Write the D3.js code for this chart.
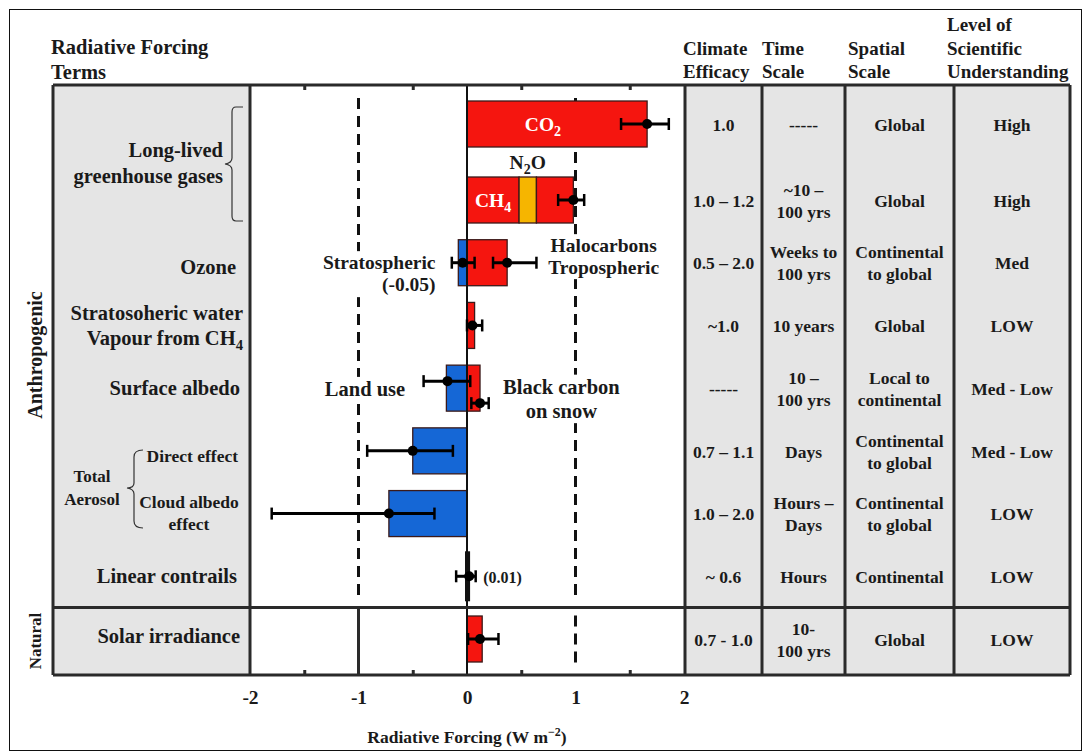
<!DOCTYPE html>
<html lang="en">
<head>
<meta charset="UTF-8">
<title>Radiative forcing terms</title>
<script src="https://d3js.org/d3.v7.min.js"></script>
<style>
  body { margin: 0; background: #fff; }
  svg text { font-family: "Liberation Serif", "Times New Roman", serif; font-weight: bold; fill: #1a1a1a; }
</style>
</head>
<body>
<svg width="1086" height="754"></svg>
<script>
// ---- data ----
const rows = ["CO2", "CH4/N2O/Halocarbons", "Ozone", "Strat. water vapour", "Surface albedo",
              "Aerosol direct", "Aerosol cloud albedo", "Linear contrails", "Solar irradiance"];

// bar segments (stacked within a row)
const segName  = ["CO2", "CH4", "N2O", "Halocarbons", "Strat. ozone", "Trop. ozone", "Strat. H2O",
                  "Land use", "Black carbon", "Direct", "Cloud albedo", "Contrails", "Solar"];
const segRow   = [0, 1, 1, 1, 2, 2, 3, 4, 4, 5, 6, 7, 8];
const segValue = [1.66, 0.48, 0.16, 0.34, -0.08, 0.37, 0.07, -0.19, 0.12, -0.50, -0.72, 0.01, 0.14];
const segKind  = ["warm", "warm", "n2o", "warm", "cool", "warm", "warm", "cool", "warm", "cool", "cool", "line", "warm"];

// uncertainty ranges
const errRow  = [0, 1, 2, 2, 3, 4, 4, 5, 6, 7, 8];
const errBest = [1.66, 0.98, -0.04, 0.37, 0.05, -0.18, 0.12, -0.50, -0.72, 0.02, 0.12];
const errLow  = [1.42, 0.84, -0.14, 0.24, 0.00, -0.40, 0.04, -0.92, -1.80, -0.10, 0.01];
const errHigh = [1.86, 1.08, 0.07, 0.64, 0.14, 0.03, 0.20, -0.13, -0.30, 0.08, 0.29];
const errNudge = [0, 0, 0, 0, 0, -7, 15, 0, 0, 0, 0];

// table columns
const efficacy = ["1.0", "1.0 – 1.2", "0.5 – 2.0", "~1.0", "-----", "0.7 – 1.1", "1.0 – 2.0", "~ 0.6", "0.7 - 1.0"];
const timeScale = [["-----"], ["~10 –", "100 yrs"], ["Weeks to", "100 yrs"], ["10 years"], ["10 –", "100 yrs"],
                   ["Days"], ["Hours –", "Days"], ["Hours"], ["10-", "100 yrs"]];
const spatialScale = [["Global"], ["Global"], ["Continental", "to global"], ["Global"], ["Local to", "continental"],
                      ["Continental", "to global"], ["Continental", "to global"], ["Continental"], ["Global"]];
const understanding = ["High", "High", "Med", "LOW", "Med - Low", "Med - Low", "LOW", "LOW", "LOW"];

const xTicks = [-2, -1, 0, 1, 2];
const xMinor = [-1.5, -0.5, 0.5, 1.5];

// ---- layout ----
const svg = d3.select("svg");
const yTop = 85, yBottom = 675, ySplit = 607.5;
const labelLeft = 53;
const x = d3.scaleLinear().domain([-2, 2]).range([250, 684]);
const y = d3.scaleLinear().domain([0, 1, 8]).range([124, 200, 639]);
const barH = 46;
const colCuts = [685, 762, 845, 954, 1070];
const ink = "#2a2a2a";

const color = d3.scaleOrdinal()
  .domain(["warm", "cool", "n2o", "line"])
  .range(["#f5150f", "#1567d6", "#f6b500", "#111"]);

// text helper: lines centred around cy, "_" marks a subscript part
function label(g, tx, cy, lines, size, anchor, fill, gap) {
  gap = gap || size * 1.22;
  const t = g.append("text")
    .attr("text-anchor", anchor || "middle")
    .attr("font-size", size)
    .style("fill", fill || "#1a1a1a");
  lines.forEach((ln, i) => {
    const parts = ln.split("_");
    t.append("tspan").attr("x", tx)
      .attr("y", cy + (i - (lines.length - 1) / 2) * gap + size * 0.33)
      .text(parts[0]);
    if (parts[1]) {
      t.append("tspan").attr("dy", size * 0.25).attr("font-size", size * 0.72).text(parts[1]);
      if (parts[2]) t.append("tspan").attr("dy", -size * 0.25).text(parts[2]);
    }
  });
  return t;
}
// white knock-out behind a label so reference lines break around it
function knockout(g, t) {
  const b = t.node().getBBox();
  g.insert("rect", () => t.node())
    .attr("x", b.x - 2).attr("y", b.y - 1).attr("width", b.width + 4).attr("height", b.height + 2)
    .attr("fill", "#fff");
}

// outer frame
svg.append("rect").attr("x", 9.5).attr("y", 9.5).attr("width", 1072).attr("height", 741)
  .attr("fill", "none").attr("stroke", "#111").attr("stroke-width", 1);

// backgrounds
svg.append("rect").attr("x", labelLeft).attr("y", yTop).attr("width", 250 - labelLeft).attr("height", yBottom - yTop)
  .attr("fill", "#e5e5e5");
svg.append("rect").attr("x", colCuts[0]).attr("y", yTop).attr("width", colCuts[4] - colCuts[0]).attr("height", yBottom - yTop)
  .attr("fill", "#e5e5e5");

// reference lines at -1 and +1
const plot = svg.append("g");
plot.selectAll(".dash").data([-1, 1]).join("line")
  .attr("x1", d => x(d)).attr("x2", d => x(d))
  .attr("y1", yTop + 13).attr("y2", ySplit - 6)
  .attr("stroke", "#111").attr("stroke-width", 3).attr("stroke-dasharray", "11,7");
plot.append("line").attr("x1", x(1)).attr("x2", x(1)).attr("y1", ySplit + 8).attr("y2", yBottom - 6)
  .attr("stroke", "#111").attr("stroke-width", 3).attr("stroke-dasharray", "11,7");
plot.append("line").attr("x1", x(-1)).attr("x2", x(-1)).attr("y1", ySplit).attr("y2", yBottom)
  .attr("stroke", ink).attr("stroke-width", 3);

// in-plot annotations with white backing (drawn before bars)
const ann = plot.append("g");
[
  label(ann, x(1.26), y(2) - 6, ["Halocarbons", "Tropospheric"], 19.5, "middle", null, 22),
  label(ann, x(-0.29), y(2) + 11, ["Stratospheric", "(-0.05)"], 19.5, "end", null, 22),
  label(ann, x(-0.94), y(4) + 1, ["Land use"], 20.5, "middle"),
  label(ann, x(0.87), y(4) + 11, ["Black carbon", "on snow"], 20.5, "middle", null, 24.5)
].forEach(t => knockout(ann, t));

// stacked bars
const posEnd = {}, negEnd = {};
const segs = segName.map((name, i) => {
  const r = segRow[i], v = segValue[i];
  let s;
  if (v >= 0) { s = posEnd[r] || 0; posEnd[r] = s + v; }
  else { s = negEnd[r] || 0; negEnd[r] = s + v; }
  return { name, row: r, x0: Math.min(s, s + v), x1: Math.max(s, s + v), kind: segKind[i] };
});
plot.selectAll(".bar").data(segs).join("rect")
  .attr("x", d => x(d.x0))
  .attr("width", d => x(d.x1) - x(d.x0))
  .attr("y", d => y(d.row) - barH / 2)
  .attr("height", barH)
  .attr("fill", d => color(d.kind))
  .attr("stroke", d => d.kind === "line" ? "#111" : "#3b1a1a")
  .attr("stroke-width", d => d.kind === "line" ? 4 : 1.3);

// zero line
plot.append("line").attr("x1", x(0)).attr("x2", x(0)).attr("y1", yTop).attr("y2", yBottom)
  .attr("stroke", "#111").attr("stroke-width", 2);

// error bars
const errs = errRow.map((r, i) => ({ cy: y(r) + errNudge[i], best: errBest[i], lo: errLow[i], hi: errHigh[i] }));
const eg = plot.selectAll(".err").data(errs).join("g");
eg.append("line").attr("x1", d => x(d.lo)).attr("x2", d => x(d.hi)).attr("y1", d => d.cy).attr("y2", d => d.cy)
  .attr("stroke", "#000").attr("stroke-width", 3);
eg.selectAll(".cap").data(d => [d.lo, d.hi].map(v => ({ v, cy: d.cy }))).join("line")
  .attr("x1", c => x(c.v)).attr("x2", c => x(c.v)).attr("y1", c => c.cy - 6).attr("y2", c => c.cy + 6)
  .attr("stroke", "#000").attr("stroke-width", 2.5);
eg.append("circle").attr("cx", d => x(d.best)).attr("cy", d => d.cy).attr("r", 5).attr("fill", "#000");

// labels sitting on the bars
label(plot, x(0.70), y(0) + 1, ["CO_2"], 19.5, "middle", "#fff");
label(plot, x(0.24), y(1) + 1, ["CH_4"], 19.5, "middle", "#fff");
label(plot, x(0.56), y(1) - 37, ["N_2_O"], 19.5, "middle");
label(plot, x(0.15), y(7) + 1, ["(0.01)"], 16, "start");

// axes: integer labels below, half-unit ticks inside the frame
const axB = svg.append("g").attr("transform", `translate(0,${yBottom})`)
  .call(d3.axisBottom(x).tickValues(xTicks).tickSize(0).tickPadding(15).tickFormat(d => String(d)));
axB.select(".domain").remove();
axB.selectAll("text").attr("font-size", 19.5).style("fill", "#1a1a1a")
  .style("font-family", "'Liberation Serif', serif").style("font-weight", "bold");
svg.append("g").attr("transform", `translate(0,${yBottom})`)
  .call(d3.axisBottom(x).tickValues(xMinor).tickSizeInner(-5).tickSizeOuter(0).tickFormat(""))
  .call(g => g.select(".domain").remove())
  .selectAll("line").attr("stroke", ink).attr("stroke-width", 3);
svg.append("g").attr("transform", `translate(0,${yTop})`)
  .call(d3.axisTop(x).tickValues(xMinor).tickSizeInner(-5).tickSizeOuter(0).tickFormat(""))
  .call(g => g.select(".domain").remove())
  .selectAll("line").attr("stroke", ink).attr("stroke-width", 3);

const xt = svg.append("text").attr("x", x(0)).attr("y", 743).attr("text-anchor", "middle").attr("font-size", 17.5);
xt.append("tspan").text("Radiative Forcing (W m");
xt.append("tspan").attr("dy", -7).attr("font-size", 12).text("−2");
xt.append("tspan").attr("dy", 7).text(")");

// grid lines of the table / frame
const grid = svg.append("g").attr("stroke", ink).attr("stroke-width", 3);
[yTop, ySplit, yBottom].forEach(yy => grid.append("line").attr("x1", labelLeft).attr("x2", colCuts[4]).attr("y1", yy).attr("y2", yy));
[labelLeft, 250].concat(colCuts).forEach(xx => grid.append("line").attr("x1", xx).attr("x2", xx).attr("y1", yTop).attr("y2", yBottom));

// headers
const hdr = svg.append("g");
hdr.append("text").attr("x", 51).attr("y", 54).attr("font-size", 20.5).text("Radiative Forcing");
hdr.append("text").attr("x", 51).attr("y", 79).attr("font-size", 20.5).text("Terms");
const headers = [[683, ["Climate", "Efficacy"]], [762, ["Time", "Scale"]], [848, ["Spatial", "Scale"]],
                 [947, ["Level of", "Scientific", "Understanding"]]];
headers.forEach(([hx, ls]) => {
  ls.forEach((s, i) => hdr.append("text").attr("x", hx).attr("y", 78 - (ls.length - 1 - i) * 23.5)
    .attr("font-size", 19).text(s));
});

// vertical group labels
svg.append("text").attr("transform", `translate(42,355) rotate(-90)`).attr("text-anchor", "middle")
  .attr("font-size", 20).text("Anthropogenic");
svg.append("text").attr("transform", `translate(41,641) rotate(-90)`).attr("text-anchor", "middle")
  .attr("font-size", 17).text("Natural");

// term labels
const terms = svg.append("g");
label(terms, 223, y(0.5) + 1, ["Long-lived", "greenhouse gases"], 20.5, "end", null, 26);
label(terms, 236, y(2) + 5, ["Ozone"], 20.5, "end");
label(terms, 243, y(3), ["Stratosoheric water", "Vapour from CH_4"], 20.5, "end", null, 25);
label(terms, 240, y(4), ["Surface albedo"], 20.5, "end");
label(terms, 238, y(5) + 5, ["Direct effect"], 17.5, "end");
label(terms, 189, y(6) - 0.5, ["Cloud albedo", "effect"], 17.5, "middle", null, 22);
label(terms, 92, (y(5) + y(6)) / 2 + 6, ["Total", "Aerosol"], 17, "middle", null, 23);
label(terms, 237, y(7), ["Linear contrails"], 20.5, "end");
label(terms, 240, y(8) - 3, ["Solar irradiance"], 20.5, "end");

// braces
const brace = d3.path();
brace.moveTo(243, 107); brace.lineTo(236, 107); brace.quadraticCurveTo(232, 107, 232, 112);
brace.lineTo(232, 158); brace.quadraticCurveTo(232, 163, 225, 164); brace.quadraticCurveTo(232, 165, 232, 170);
brace.lineTo(232, 216); brace.quadraticCurveTo(232, 221, 236, 221); brace.lineTo(243, 221);
const brace2 = d3.path();
brace2.moveTo(143, 450); brace2.quadraticCurveTo(134, 450, 134, 457);
brace2.lineTo(134, 483); brace2.quadraticCurveTo(134, 488, 127, 488); brace2.quadraticCurveTo(134, 489, 134, 494);
brace2.lineTo(134, 521); brace2.quadraticCurveTo(134, 528, 143, 528);
terms.selectAll(".brace").data([brace, brace2]).join("path")
  .attr("d", d => d.toString()).attr("fill", "none").attr("stroke", "#333").attr("stroke-width", 1.2);

// table cells
const tbl = svg.append("g");
const cols = [efficacy.map(s => [s]), timeScale, spatialScale, understanding.map(s => [s])];
cols.forEach((col, ci) => {
  const cx = (colCuts[ci] + colCuts[ci + 1]) / 2;
  col.forEach((ls, r) => label(tbl, cx, y(r) + 1, ls, 17.5, "middle", null, 22));
});
</script>
</body>
</html>
